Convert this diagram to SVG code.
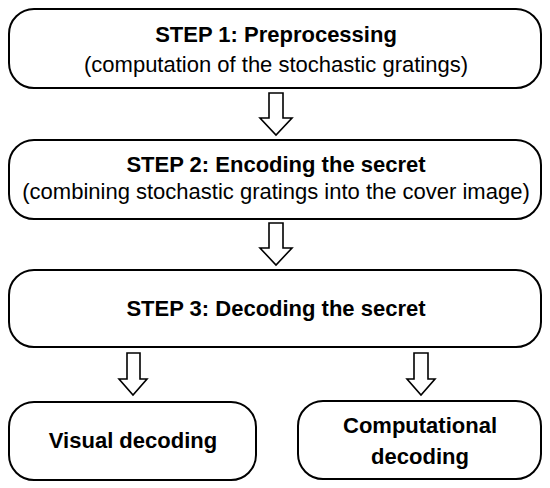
<svg xmlns="http://www.w3.org/2000/svg" width="550" height="488" viewBox="0 0 550 488">
<style>
.box{fill:#fff;stroke:#000;stroke-width:2}
.arr{fill:#fff;stroke:#000;stroke-width:1.6;stroke-linejoin:miter}
text{font-family:"Liberation Sans",Arial,sans-serif;font-size:22px;fill:#000;text-anchor:middle}
.b{font-weight:bold}
</style>
<rect width="550" height="488" fill="#fff"/>
<g id="connectors">
<polygon class="arr" points="269,93 283,93 283,118 292,118 276,135 260,118 269,118"/>
<polygon class="arr" points="269,223 283,223 283,248 292,248 276,265 260,248 269,248"/>
<polygon class="arr" points="127,353 140,353 140,379 147,379 133,395 119,379 127,379"/>
<polygon class="arr" points="414,353 428,353 428,379 435,379 421,395 407,379 414,379"/>
</g>
<g id="step1">
<rect class="box" x="9" y="9" width="532" height="79" rx="25"/>
<text class="b" x="276" y="42">STEP 1: Preprocessing</text>
<text x="276" y="72">(computation of the stochastic gratings)</text>
</g>
<g id="step2">
<rect class="box" x="9" y="140" width="532" height="79" rx="25"/>
<text class="b" x="276" y="172">STEP 2: Encoding the secret</text>
<text x="276" y="199">(combining stochastic gratings into the cover image)</text>
</g>
<g id="step3">
<rect class="box" x="9" y="270" width="532" height="77" rx="25"/>
<text class="b" x="276" y="316">STEP 3: Decoding the secret</text>
</g>
<g id="visual">
<rect class="box" x="9" y="402" width="247" height="78" rx="25"/>
<text class="b" x="133" y="448">Visual decoding</text>
</g>
<g id="computational">
<rect class="box" x="298" y="401" width="243" height="78" rx="25"/>
<text class="b" x="420" y="433">Computational</text>
<text class="b" x="420" y="464">decoding</text>
</g>
</svg>
